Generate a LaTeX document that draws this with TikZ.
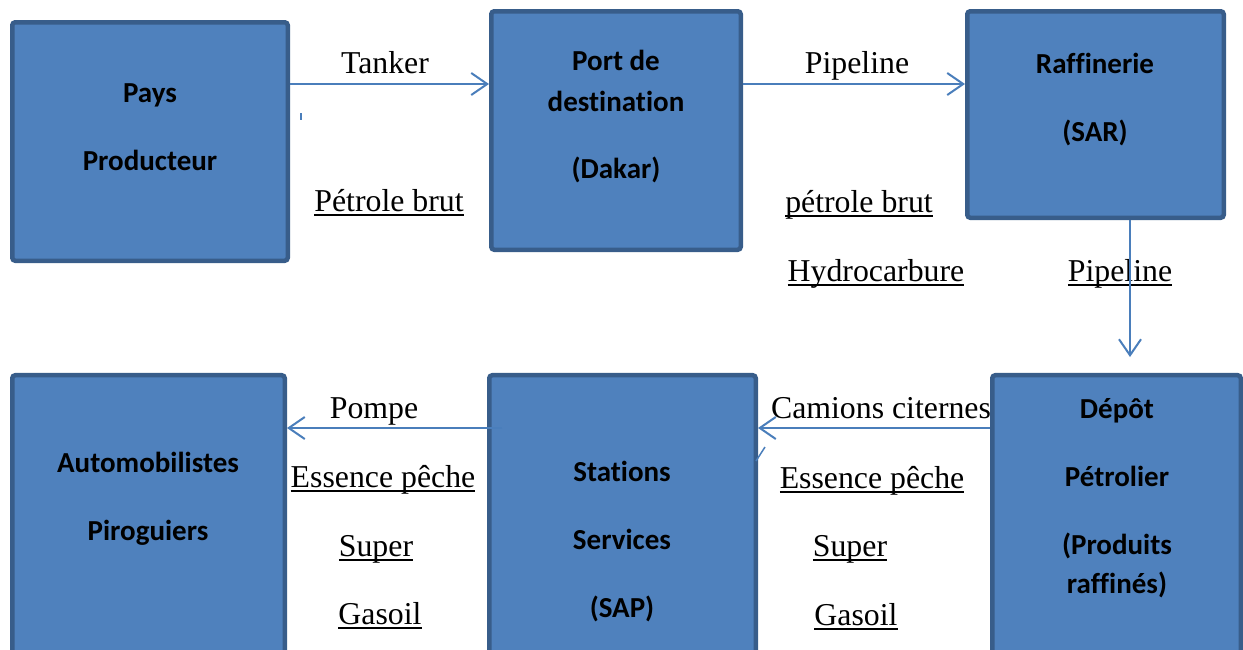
\documentclass[tikz,border=0pt]{standalone}
\usepackage{fontspec}
\setmainfont{Liberation Serif}
\newfontfamily\boxfont{Carlito}[Ligatures=NoCommon]
\usetikzlibrary{arrows.meta}
\definecolor{boxfill}{HTML}{4F81BD}
\definecolor{boxline}{HTML}{385D8A}
\definecolor{arrcol}{HTML}{4A7EBB}
\newcommand\ulx[1]{\setbox0\hbox{#1}\rlap{\rule[-5pt]{\wd0}{2.4pt}}\box0}
\tikzset{
  blk/.style={draw=boxline, fill=boxfill, line width=4.5pt, rounded corners=3pt, inner sep=0pt},
  btxt/.style={anchor=base, inner sep=0pt, font=\boxfont\bfseries\fontsize{29}{34}\selectfont},
  lbl/.style={anchor=base, inner sep=0pt, font=\fontsize{31.8}{36}\selectfont},
  arr/.style={draw=arrcol, line width=2pt, -{Straight Barb[length=16pt,width=22pt,line width=2pt]}},
}
\begin{document}
\begin{tikzpicture}[x=1pt,y=-1pt]
\useasboundingbox (0,0) rectangle (1243,649);
\clip (0,0) rectangle (1243,649);
% labels (drawn first, boxes overlap them)
\node[lbl] (lTanker) at (385,73) {Tanker};
\node[lbl] (lPipe1) at (857,73) {Pipeline};
\node[lbl] (lBrut1) at (389,211) {\ulx{Pétrole brut}};
\node[lbl] (lBrut2) at (859,212) {\ulx{pétrole brut}};
\node[lbl] (lHydro) at (876,281) {\ulx{Hydrocarbure}};
\node[lbl] (lPipe2) at (1120,281) {\ulx{Pipeline}};
\node[lbl] (lCamions) at (881,418) {Camions citernes};
\node[lbl] (lPompe) at (374,418) {Pompe};
\node[lbl] (lEss1) at (383,487) {\ulx{Essence pêche}};
\node[lbl] (lSup1) at (376,556) {\ulx{Super}};
\node[lbl] (lGas1) at (380,624) {\ulx{Gasoil}};
\node[lbl] (lEss2) at (872,488) {\ulx{Essence pêche}};
\node[lbl] (lSup2) at (850,556) {\ulx{Super}};
\node[lbl] (lGas2) at (856,625) {\ulx{Gasoil}};
% boxes
\node[blk, minimum width=275.5pt, minimum height=238.5pt] (B1) at (150,141.5) {};
\node[blk, minimum width=249.5pt, minimum height=238.5pt] (B2) at (616,130.5) {};
\node[blk, minimum width=256.5pt, minimum height=206.5pt] (B3) at (1095.5,114.5) {};
\node[blk, minimum width=248.5pt, minimum height=314.75pt] (B4) at (1116.5,532.6) {};
\node[blk, minimum width=266.5pt, minimum height=314.75pt] (B5) at (622.5,532.6) {};
\node[blk, minimum width=272.5pt, minimum height=314.75pt] (B6) at (148.5,532.6) {};
% box texts
\node[btxt] (t1a) at (150,102) {Pays};
\node[btxt] (t1b) at (150,170) {Producteur};
\node[btxt] (t2a) at (616,70) {Port de};
\node[btxt] (t2b) at (616,111) {destination};
\node[btxt] (t2c) at (616,178) {(Dakar)};
\node[btxt] (t3a) at (1095,73) {Raffinerie};
\node[btxt] (t3b) at (1095,141) {(SAR)};
\node[btxt] (t4a) at (1117,418) {Dépôt};
\node[btxt] (t4b) at (1117,486) {Pétrolier};
\node[btxt] (t4c) at (1117,554) {(Produits};
\node[btxt] (t4d) at (1117,593) {raffinés)};
\node[btxt] (t5a) at (622,481) {Stations};
\node[btxt] (t5b) at (622,549) {Services};
\node[btxt] (t5c) at (622,617) {(SAP)};
\node[btxt] (t6a) at (148,472) {Automobilistes};
\node[btxt] (t6b) at (148,540) {Piroguiers};
% connectors
\coordinate (yTop) at (0,84);
\coordinate (yBot) at (0,428);
\coordinate (tipV) at (1130,357);
\coordinate (startP) at (502,428);
\draw[arr] (B1.east |- yTop) -- (B2.west |- yTop);
\draw[arr] (B2.east |- yTop) -- (B3.west |- yTop);
\draw[arr] (tipV |- B3.south) -- (tipV);
\draw[arr] (B4.west |- yBot) -- (B5.east |- yBot);
\draw[arr] (startP) -- (B6.east |- yBot);
% small stray marks
\draw[arrcol, line width=1.5pt] (301,113) -- (301,120);
\draw[arrcol, line width=1.5pt] (765,447) -- (756,461);
\end{tikzpicture}
\end{document}
